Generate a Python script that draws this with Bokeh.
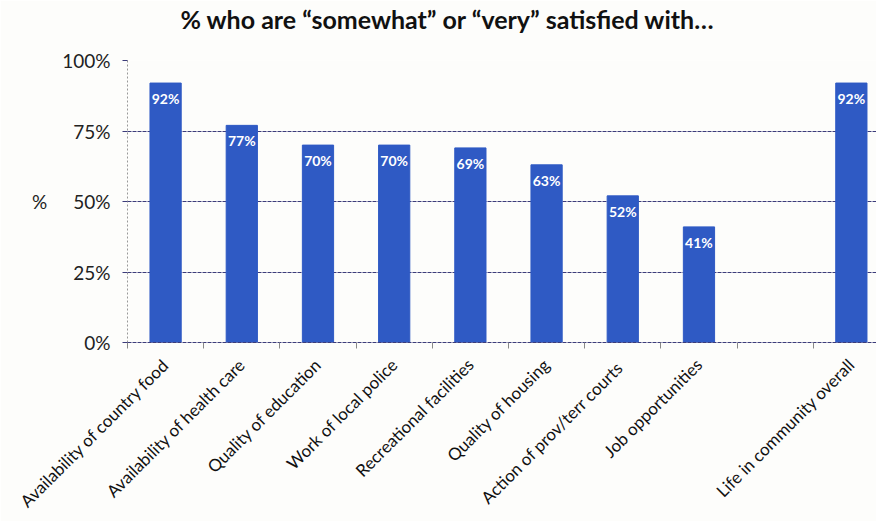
import math
from bokeh.plotting import figure
from bokeh.models import Range1d, FixedTicker, PrintfTickFormatter, ColumnDataSource, Title
from bokeh.core.properties import value
from bokeh.embed import file_html
from bokeh.resources import INLINE

categories = ["Availability of country food", "Availability of health care",
              "Quality of education", "Work of local police", "Recreational facilities",
              "Quality of housing", "Action of prov/terr  courts", "Job opportunities",
              "", "Life in community overall"]
values = [92, 77, 70, 70, 69, 63, 52, 41, None, 92]
y_ticks = [0, 25, 50, 75, 100]
title_text = "% who are \u201csomewhat\u201d or \u201cvery\u201d satisfied with\u2026"

FONT = "Lato"
BAR = "#2f5ac4"
GRID = "#3c3c7a"

xs = [i + 0.5 for i in range(len(categories))]
bx = [x for x, v in zip(xs, values) if v is not None]
bv = [v for v in values if v is not None]
src = ColumnDataSource(dict(x=bx, top=bv, lab=[f"{v}%" for v in bv]))

p = figure(width=876, height=521, output_backend="svg", toolbar_location=None,
           x_range=Range1d(0, 9.83), y_range=Range1d(0, 100),
           min_border_left=127, min_border_right=0, min_border_top=60, min_border_bottom=177)
p.outline_line_color = None
p.background_fill_color = "#fdfdfb"
p.border_fill_color = "#fdfdfb"

# chart title (outer) plus an empty spacer title between it and the frame
p.title = Title(text=title_text, align="left", offset=53, text_font=FONT,
                text_font_size="25px", text_font_style="bold", text_color="#111111",
                standoff=0)
p.add_layout(Title(text=" ", text_font_size="22px", standoff=0), "above")

p.vbar(x="x", top="top", width=0.41, bottom=0, source=src, color=BAR)
p.text(x="x", y="top", text="lab", source=src, text_color="white", text_align="center",
       text_baseline="top", y_offset=7, text_font=value(FONT), text_font_size="14px",
       text_font_style="bold")

# x axis
xa = p.xaxis[0]
xa.ticker = FixedTicker(ticks=xs, minor_ticks=list(range(len(categories) + 1)))
xa.major_label_overrides = {x: c for x, c in zip(xs, categories)}
xa.major_label_orientation = math.pi / 4
xa.major_tick_line_color = None
xa.major_tick_out = 0
xa.major_tick_in = 0
xa.minor_tick_in = 0
xa.minor_tick_out = 6
xa.minor_tick_line_color = "#888888"
xa.axis_line_color = GRID
xa.axis_line_dash = "4 1"
xa.major_label_text_font = FONT
xa.major_label_text_font_size = "17px"
xa.major_label_text_color = "#111111"
xa.major_label_standoff = 13

# y axis
ya = p.yaxis[0]
ya.ticker = FixedTicker(ticks=y_ticks)
ya.formatter = PrintfTickFormatter(format="%d%%")
ya.axis_line_color = "#999999"
ya.axis_line_dash = "2 2"
ya.major_tick_out = 5
ya.major_tick_in = 0
ya.major_tick_line_color = GRID
ya.minor_tick_line_color = None
ya.major_label_text_font = FONT
ya.major_label_text_font_size = "19px"
ya.major_label_text_color = "#222222"
ya.major_label_standoff = 12
ya.axis_label = "%"
ya.axis_label_text_font = FONT
ya.axis_label_text_font_size = "19px"
ya.axis_label_text_font_style = "normal"
ya.axis_label_text_color = "#222222"
ya.axis_label_standoff = 12
try:
    ya.axis_label_orientation = "horizontal"
except Exception:
    pass

p.xgrid.grid_line_color = None
p.ygrid.ticker = FixedTicker(ticks=y_ticks)
p.ygrid.grid_line_color = GRID
p.ygrid.grid_line_dash = "4 1"
p.ygrid.grid_line_width = 1

open("out.html", "w").write(file_html(p, INLINE))
